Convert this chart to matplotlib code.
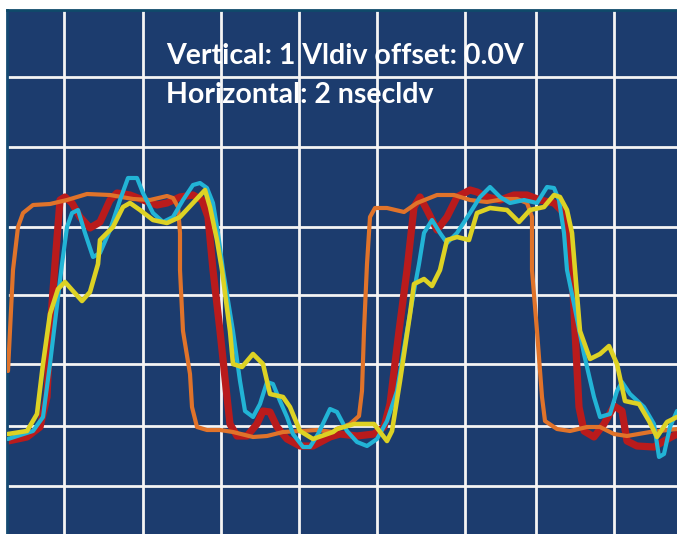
import matplotlib.pyplot as plt

# scope screen units: x in screen columns, y in screen rows (top = 0)
grid_x = [64, 143, 221, 299, 377, 465, 536, 614]
grid_y = [77, 147, 227, 295, 364, 426, 486]

# orange trace
orange_x = [8, 13, 18, 23, 33, 50, 67, 87, 110, 133, 150, 167, 173, 178, 180, 180,
            183, 190, 192, 197, 207, 220, 233, 253, 267, 283, 300, 317, 333,
            337, 350, 359, 362, 364, 367, 370, 375, 387, 404, 417, 437, 454, 470,
            487, 504, 517, 527, 532, 532, 537, 542, 545, 557, 570, 587, 600, 614,
            627, 650, 677]
orange_y = [371, 270, 227, 213, 205, 204, 200, 194, 195, 199, 200, 196, 198, 207, 233, 270,
            331, 374, 407, 427, 430, 430, 432, 437, 436, 432, 431, 430, 432,
            429, 424, 416, 391, 331, 264, 217, 208, 208, 212, 203, 195, 195, 200,
            202, 199, 199, 203, 217, 270, 331, 397, 421, 429, 431, 427, 427, 434,
            436, 432, 429]

# red trace
red_x = [8, 27, 40, 47, 50, 55, 60, 65, 72, 80, 90, 100, 110, 117, 130, 143, 157, 167,
         180, 193, 202, 208, 213, 220, 227, 230, 237, 247, 257, 263, 270, 277, 287,
         300, 313, 330, 340, 357, 374, 384, 390, 399, 407, 414, 420, 427, 437, 447,
         457, 470, 477, 487, 500, 514, 527, 540, 554, 564, 570, 572, 575, 579, 584,
         594, 604, 614, 622, 627, 637, 654, 664, 677]
red_y = [441, 437, 427, 397, 331, 264, 200, 197, 203, 217, 228, 222, 200, 193, 195, 200,
         205, 203, 197, 195, 200, 217, 270, 331, 397, 424, 436, 436, 424, 411, 412, 427,
         439, 446, 446, 437, 434, 436, 434, 427, 404, 331, 270, 207, 197, 210, 230, 217,
         197, 190, 192, 197, 200, 195, 195, 200, 203, 213, 253, 270, 331, 407, 431,
         437, 424, 406, 411, 441, 446, 447, 441, 434]

# cyan trace
cyan_x = [8, 33, 43, 50, 58, 62, 67, 72, 78, 85, 93, 100, 110, 120, 128, 137, 143, 153,
          163, 173, 183, 193, 200, 207, 213, 218, 223, 233, 240, 245, 253, 260, 267,
          273, 280, 287, 293, 303, 310, 318, 330, 337, 347, 357, 367, 377, 387, 397,
          407, 414, 419, 424, 432, 440, 447, 457, 470, 480, 490, 500, 510, 524, 537,
          547, 554, 559, 564, 567, 574, 584, 594, 600, 610, 617, 622, 630, 644, 654,
          659, 664, 670, 677]
cyan_y = [439, 431, 417, 364, 297, 264, 227, 213, 210, 233, 257, 253, 230, 200, 178, 178,
          193, 213, 222, 217, 200, 185, 183, 188, 203, 233, 270, 331, 381, 411, 417, 404,
          382, 384, 401, 417, 434, 447, 447, 434, 409, 412, 431, 442, 446, 439, 421, 391,
          331, 291, 264, 233, 220, 233, 243, 233, 213, 197, 187, 197, 203, 200, 203,
          187, 188, 200, 233, 270, 304, 354, 397, 417, 414, 391, 382, 394, 407, 424,
          457, 454, 427, 411]

# yellow trace
yellow_x = [8, 27, 37, 43, 50, 58, 65, 73, 82, 90, 98, 100, 113, 123, 130, 140, 153, 167,
            180, 193, 205, 210, 217, 222, 230, 233, 242, 253, 263, 270, 283, 290, 300,
            313, 333, 337, 354, 374, 387, 392, 400, 410, 414, 424, 432, 440, 447, 457,
            469, 477, 490, 507, 519, 530, 544, 554, 560, 567, 572, 575, 580, 590, 600,
            609, 617, 625, 639, 649, 657, 667, 677]
yellow_y = [434, 431, 414, 364, 314, 289, 282, 291, 301, 292, 264, 240, 227, 207, 203, 210,
            220, 223, 217, 203, 190, 207, 240, 270, 331, 364, 367, 354, 364, 394, 397, 407,
            431, 439, 432, 429, 424, 424, 441, 431, 381, 314, 284, 279, 286, 270, 240, 237,
            240, 213, 208, 210, 222, 210, 207, 195, 197, 210, 233, 270, 331, 359, 354,
            346, 364, 401, 404, 421, 437, 422, 417]

line1 = 'Vertical: 1 Vldiv offset: 0.0V'
line2 = 'Horizontal: 2 nsecldv'

fig = plt.figure(figsize=(6.77, 5.34), dpi=100)
ax = fig.add_axes([7 / 677, 0, 670 / 677, 524 / 534])
ax.set_facecolor('#1c3c6e')
ax.set_xlim(7, 677)
ax.set_ylim(534, 10)

for gx in grid_x:
    ax.axvline(gx, color='#f4f4f4', lw=2.0, zorder=1)
for gy in grid_y:
    ax.axhline(gy, color='#f4f4f4', lw=2.0, zorder=1)

style = dict(solid_joinstyle='round', solid_capstyle='round')
ax.plot(red_x, red_y, color='#b91b1c', lw=5.2, zorder=2, **style)
ax.plot(orange_x, orange_y, color='#e0732a', lw=3.0, zorder=3, **style)
ax.plot(cyan_x, cyan_y, color='#22b4d6', lw=3.0, zorder=4, **style)
ax.plot(yellow_x, yellow_y, color='#ddd224', lw=3.3, zorder=5, **style)

ax.text(166, 64, line1, color='white', fontsize=20.5, fontweight='bold',
        family='Lato', va='baseline', ha='left', zorder=6)
ax.text(166, 103, line2, color='white', fontsize=20.5, fontweight='bold',
        family='Lato', va='baseline', ha='left', zorder=6)

ax.set_xticks([])
ax.set_yticks([])
for side in ['right', 'bottom']:
    ax.spines[side].set_visible(False)
ax.spines['left'].set_color('#154a72')
ax.spines['left'].set_linewidth(2)
ax.spines['top'].set_color('#0f4a6a')
ax.spines['top'].set_linewidth(2)

fig.savefig('out.png', dpi=100)
